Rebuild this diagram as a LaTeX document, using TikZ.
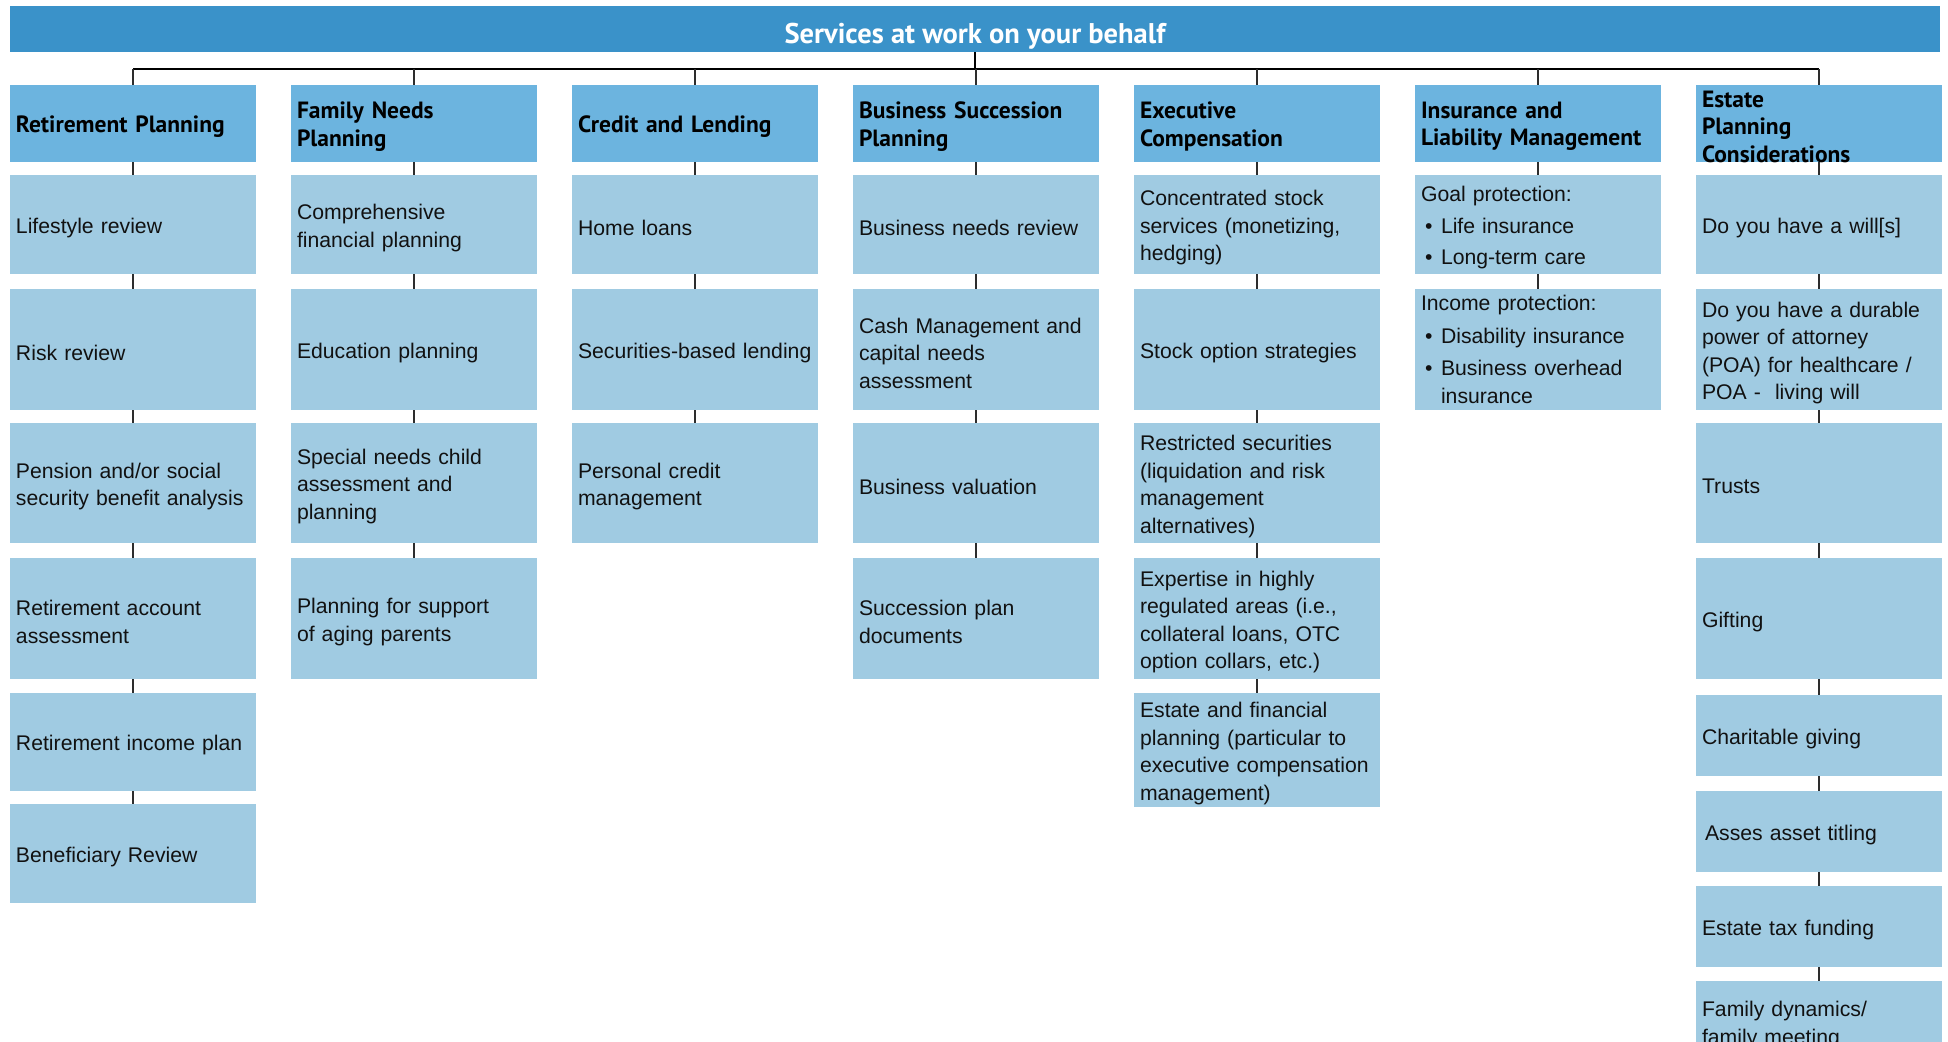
\documentclass[tikz,border=0pt]{standalone}
\usepackage{fontspec}
\setmainfont{Liberation Sans}
\newfontfamily\headfont{PT Sans}
\definecolor{titleblue}{RGB}{58,146,201}
\definecolor{headblue}{RGB}{108,180,223}
\definecolor{itemblue}{RGB}{160,203,226}
\definecolor{linkgray}{RGB}{45,45,45}
\definecolor{inktext}{RGB}{17,17,17}
\newcommand{\bul}{\makebox[20pt][l]{\hspace{4pt}\textbullet}}
% one service cell: name, x, y, height, text (optional: text drop)
\newcommand{\cell}[6][3.5]{%
  \node[itembox, minimum height=#5pt] (#2) at (#3,#4) {};
  \node[itemtext] (#2-t) at ([yshift=-#1pt]#2.center) {#6};}
\begin{document}
\begin{tikzpicture}[x=1pt,y=-1pt,
  titlebox/.style={fill=titleblue, minimum width=1930pt, minimum height=46pt, inner sep=0pt},
  titletext/.style={text=white, font=\headfont\bfseries\fontsize{28.5}{32}\selectfont, inner sep=0pt},
  headbox/.style={fill=headblue, minimum width=246pt, minimum height=77pt, inner sep=0pt},
  headtext/.style={text=black, font=\headfont\bfseries\fontsize{23.5}{27.5}\selectfont,
    text width=234pt, inner sep=0pt, align=left},
  itembox/.style={fill=itemblue, minimum width=246pt, inner sep=0pt},
  itemtext/.style={text=inktext, font=\fontsize{21.2}{27.5}\selectfont,
    text width=234pt, inner sep=0pt, align=left},
  bus/.style={draw=black, line width=2pt},
  link/.style={draw=linkgray, line width=1.3pt},
]
\useasboundingbox (0,0) rectangle (1948,1041);
\clip (0,0) rectangle (1948,1041);

% title bar
\node[titlebox] (title) at (975,29) {};
\node[titletext] (titlelabel) at ([yshift=-7.5pt]title.center) {Services at work on your behalf};

% column headers
\foreach \n/\x in {h1/133,h2/414,h3/695,h4/976,h5/1257,h6/1538,h7/1819}
  \node[headbox] (\n) at (\x,123.5) {};
\node[headtext] (t1) at ([yshift=-3pt]h1.center) {Retirement Planning};
\node[headtext] (t2) at ([yshift=-3pt]h2.center) {Family Needs\\Planning};
\node[headtext] (t3) at ([yshift=-3pt]h3.center) {Credit and Lending};
\node[headtext] (t4) at ([yshift=-3pt]h4.center) {Business Succession\\Planning};
\node[headtext] (t5) at ([yshift=-3pt]h5.center) {Executive\\Compensation};
\node[headtext] (t6) at ([yshift=-3pt]h6.center) {Insurance and\\Liability Management};
\node[headtext] (t7) at ([yshift=-3pt]h7.center) {Estate\\Planning\\Considerations};

% column 1
\cell{a1}{133}{224.5}{99}{Lifestyle review}
\cell{a2}{133}{349.5}{121}{Risk review}
\cell{a3}{133}{483}{120}{Pension and/or social\\security benefit analysis}
\cell{a4}{133}{618.5}{121}{Retirement account\\assessment}
\cell{a5}{133}{742}{98}{Retirement income plan}
\cell{a6}{133}{853.5}{99}{Beneficiary Review}

% column 2
\cell{b1}{414}{224.5}{99}{Comprehensive\\financial planning}
\cell{b2}{414}{349.5}{121}{Education planning}
\cell{b3}{414}{483}{120}{Special needs child\\assessment and\\planning}
\cell{b4}{414}{618.5}{121}{Planning for support\\of aging parents}

% column 3
\cell{c1}{695}{224.5}{99}{Home loans}
\cell{c2}{695}{349.5}{121}{Securities-based lending}
\cell{c3}{695}{483}{120}{Personal credit\\management}

% column 4
\cell{d1}{976}{224.5}{99}{Business needs review}
\cell{d2}{976}{349.5}{121}{Cash Management and\\capital needs\\assessment}
\cell{d3}{976}{483}{120}{Business valuation}
\cell{d4}{976}{618.5}{121}{Succession plan\\documents}

% column 5
\cell{e1}{1257}{224.5}{99}{Concentrated stock\\services (monetizing,\\hedging)}
\cell{e2}{1257}{349.5}{121}{Stock option strategies}
\cell{e3}{1257}{483}{120}{Restricted securities\\(liquidation and risk\\management\\alternatives)}
\cell{e4}{1257}{618.5}{121}{Expertise in highly\\regulated areas (i.e.,\\collateral loans, OTC\\option collars, etc.)}
\cell{e5}{1257}{750}{114}{Estate and financial\\planning (particular to\\executive compensation\\management)}

% column 6
\cell{f1}{1538}{224.5}{99}{Goal protection:\\[4pt]\bul Life insurance\\[4pt]\bul Long-term care}
\cell[0]{f2}{1538}{349.5}{121}{Income protection:\\[5pt]\bul Disability insurance\\[5pt]\bul Business overhead\\\hspace*{20pt}insurance}

% column 7
\cell{g1}{1819}{224.5}{99}{Do you have a will[s]}
\cell{g2}{1819}{349.5}{121}{Do you have a durable\\power of attorney\\(POA) for healthcare /\\POA -\ \ living will}
\cell{g3}{1819}{483}{120}{Trusts}
\cell{g4}{1819}{618.5}{121}{Gifting}
\cell{g5}{1819}{735.5}{81}{Charitable giving}
\cell{g6}{1819}{831.5}{81}{\hspace*{3pt}Asses asset titling}
\cell{g7}{1819}{926.5}{81}{Estate tax funding}
\cell{g8}{1819}{1021.5}{81}{Family dynamics/\\family meeting}

% bus joining the title to the column headers
\coordinate (busL) at (133,69);
\coordinate (busR) at (1819,69);
\draw[bus] (busL) -- (busR);
\draw[bus] (title.south) -- (title.south |- busL);
\foreach \h in {h1,h2,h3,h4,h5,h6,h7}
  \draw[link] (\h.north) -- (\h.north |- busL);

% links down each column
\foreach \u/\v in {h1/a1,a1/a2,a2/a3,a3/a4,a4/a5,a5/a6,
                   h2/b1,b1/b2,b2/b3,b3/b4,
                   h3/c1,c1/c2,c2/c3,
                   h4/d1,d1/d2,d2/d3,d3/d4,
                   h5/e1,e1/e2,e2/e3,e3/e4,e4/e5,
                   h6/f1,f1/f2,
                   h7/g1,g1/g2,g2/g3,g3/g4,g4/g5,g5/g6,g6/g7,g7/g8}
  \draw[link] (\u.south) -- (\v.north);
\end{tikzpicture}
\end{document}
